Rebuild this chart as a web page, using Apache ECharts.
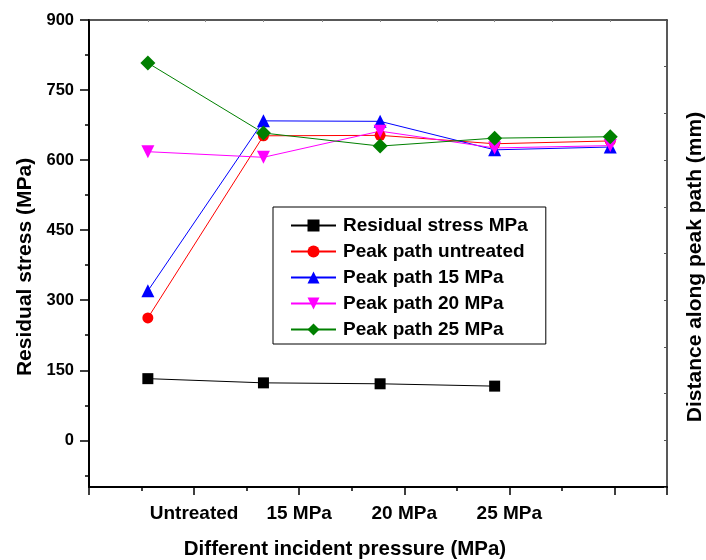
<!DOCTYPE html>
<html>
<head>
<meta charset="utf-8">
<title>Residual stress chart</title>
<script src="https://cdn.jsdelivr.net/npm/echarts/dist/echarts.min.js"></script>
<style>
    html, body { margin: 0; padding: 0; background: #fff; }
    #chart { width: 706px; height: 560px; }
</style>
</head>
<body>
<div id="chart"></div>
<script>
// x positions of the five groups (value axis, Origin style)
var xs = [0.56, 1.66, 2.77, 3.86, 4.96]
var xTickValues = [1, 2, 3, 4]
var xTickLabels = ['Untreated', '15 MPa', '20 MPa', '25 MPa']

var yTickValues = [0, 150, 300, 450, 600, 750, 900]

var residualStress = [132, 123, 121, 116]
var peakUntreated = [262, 652, 653, 635, 641]
var peak15 = [320, 684, 683, 622, 628]
var peak20 = [618, 606, 662, 626, 631]
var peak25 = [808, 658, 630, 647, 650]

var font = 'Liberation Sans'

function pairs(vals) {
    var out = []
    for (var i = 0; i < vals.length; i++) {
        out.push([xs[i], vals[i]])
    }
    return out
}

function makeSeries(name, vals, color, symbol, size, rotate) {
    return {
        name: name,
        type: 'line',
        data: pairs(vals),
        symbol: symbol,
        symbolSize: size,
        symbolRotate: rotate || 0,
        lineStyle: { color: color, width: 1 },
        itemStyle: { color: color },
        emphasis: { disabled: true }
    }
}

// minor tick positions
var yMinor = []
for (var v = -75; v < 900; v += 150) yMinor.push(v)
var xMinor = [0.5, 1.5, 2.5, 3.5, 4.5]
// faint top ticks: at each group and halfway between
var xTop = []
for (var i = 0; i < xs.length; i++) {
    xTop.push(xs[i])
    if (i < xs.length - 1) xTop.push((xs[i] + xs[i + 1]) / 2)
}

var myChart = echarts.init(document.getElementById('chart'))

var option = {
    backgroundColor: '#fff',
    animation: false,
    grid: { left: 89, right: 39, top: 20, bottom: 73 },
    legend: {
        orient: 'vertical',
        left: 273,
        top: 207,
        padding: [9, 18, 5, 17],
        itemWidth: 45,
        itemHeight: 15,
        itemGap: 7,
        borderColor: '#000',
        borderWidth: 1,
        textStyle: {
            fontFamily: font,
            fontWeight: 'bold',
            fontSize: 19,
            lineHeight: 19,
            color: '#000',
            padding: [0, 0, 0, 2]
        },
        data: ['Residual stress MPa', 'Peak path untreated', 'Peak path 15 MPa', 'Peak path 20 MPa', 'Peak path 25 MPa']
    },
    xAxis: [
        {
            type: 'value',
            position: 'bottom',
            min: 0,
            max: 5.5,
            axisLine: { onZero: false, lineStyle: { color: '#000', width: 2 } },
            axisTick: {
                customValues: [0, 1, 2, 3, 4, 5, 5.5],
                length: 8,
                lineStyle: { color: '#000', width: 1.5 }
            },
            axisLabel: {
                customValues: xTickValues,
                margin: 17,
                fontFamily: font,
                fontWeight: 'bold',
                fontSize: 19,
                color: '#000',
                formatter: function (val) {
                    var k = xTickValues.indexOf(val)
                    return k >= 0 ? xTickLabels[k] : ''
                }
            },
            splitLine: { show: false }
        },
        {
            type: 'value',
            position: 'bottom',
            min: 0,
            max: 5.5,
            axisLine: { show: false, onZero: false },
            axisTick: { customValues: xMinor, length: 4, lineStyle: { color: '#000', width: 1.5 } },
            axisLabel: { show: false },
            splitLine: { show: false }
        },
        {
            type: 'value',
            position: 'top',
            min: 0,
            max: 5.5,
            axisLine: { onZero: false, lineStyle: { color: '#222', width: 1.5 } },
            axisTick: { customValues: xTop, inside: true, length: 2, lineStyle: { color: '#888', width: 1 } },
            axisLabel: { show: false },
            splitLine: { show: false }
        }
    ],
    yAxis: [
        {
            type: 'value',
            position: 'left',
            min: -100,
            max: 900,
            axisLine: { show: true, onZero: false, lineStyle: { color: '#000', width: 2 } },
            axisTick: {
                customValues: yTickValues,
                length: 9,
                lineStyle: { color: '#000', width: 1.5 }
            },
            axisLabel: {
                customValues: yTickValues,
                margin: 15,
                fontFamily: font,
                fontWeight: 'bold',
                fontSize: 16.5,
                color: '#000'
            },
            splitLine: { show: false }
        },
        {
            type: 'value',
            position: 'left',
            min: -100,
            max: 900,
            axisLine: { show: false, onZero: false },
            axisTick: { customValues: yMinor, length: 4, lineStyle: { color: '#000', width: 1.5 } },
            axisLabel: { show: false },
            splitLine: { show: false }
        },
        {
            type: 'value',
            position: 'right',
            min: -100,
            max: 900,
            interval: 100,
            axisLine: { show: true, onZero: false, lineStyle: { color: '#222', width: 1.5 } },
            axisTick: { inside: true, length: 3, lineStyle: { color: '#555', width: 1 } },
            axisLabel: { show: false },
            splitLine: { show: false }
        }
    ],
    graphic: [
        {
            type: 'text',
            x: 25,
            y: 267,
            rotation: Math.PI / 2,
            style: {
                text: 'Residual stress (MPa)',
                textAlign: 'center',
                textVerticalAlign: 'middle',
                font: 'bold 21px "Liberation Sans"',
                fill: '#000'
            }
        },
        {
            type: 'text',
            x: 345,
            y: 549,
            style: {
                text: 'Different incident pressure (MPa)',
                textAlign: 'center',
                textVerticalAlign: 'middle',
                font: 'bold 20.5px "Liberation Sans"',
                fill: '#000'
            }
        },
        {
            type: 'text',
            x: 695,
            y: 267,
            rotation: Math.PI / 2,
            style: {
                text: 'Distance along peak path (mm)',
                textAlign: 'center',
                textVerticalAlign: 'middle',
                font: 'bold 21px "Liberation Sans"',
                fill: '#000'
            }
        }
    ],
    series: [
        makeSeries('Residual stress MPa', residualStress, '#000000', 'rect', 11),
        makeSeries('Peak path untreated', peakUntreated, '#ff0000', 'circle', 11),
        makeSeries('Peak path 15 MPa', peak15, '#0000ff', 'triangle', 13),
        makeSeries('Peak path 20 MPa', peak20, '#ff00ff', 'triangle', 13, 180),
        makeSeries('Peak path 25 MPa', peak25, '#008000', 'diamond', 15)
    ]
}

myChart.setOption(option)
</script>
</body>
</html>
